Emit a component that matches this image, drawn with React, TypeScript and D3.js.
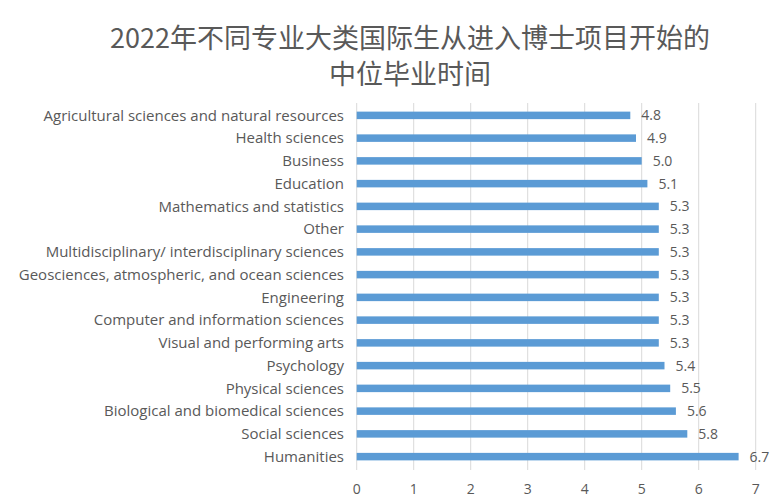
import { useEffect, useRef } from 'react';
import * as d3 from 'd3';

const titleLines = ['2022年不同专业大类国际生从进入博士项目开始的', '中位毕业时间'];

const categories = [
  'Agricultural sciences and natural resources',
  'Health sciences',
  'Business',
  'Education',
  'Mathematics and statistics',
  'Other',
  'Multidisciplinary/ interdisciplinary sciences',
  'Geosciences, atmospheric, and ocean sciences',
  'Engineering',
  'Computer and information sciences',
  'Visual and performing arts',
  'Psychology',
  'Physical sciences',
  'Biological and biomedical sciences',
  'Social sciences',
  'Humanities',
];

const values = [4.8, 4.9, 5.0, 5.1, 5.3, 5.3, 5.3, 5.3, 5.3, 5.3, 5.3, 5.4, 5.5, 5.6, 5.8, 6.7];

const xTicks = [0, 1, 2, 3, 4, 5, 6, 7];

const TITLE_FONT = '"Noto Sans CJK SC", sans-serif';
const FONT = '"Open Sans", "Noto Sans", sans-serif';
const TEXT = '#595959';

const App = () => {
  const svgRef = useRef<SVGSVGElement>(null);

  useEffect(() => {
    if (!svgRef.current) return;
    const svg = d3.select(svgRef.current);
    svg.selectAll('*').remove();

    const width = 774;
    const height = 500;
    const left = 356.7;
    const right = 755.7;
    const top = 103;
    const bottom = 470;

    svg.attr('width', width).attr('height', height);

    // title
    svg.selectAll('.title')
      .data(titleLines)
      .join('text')
      .attr('class', 'title')
      .attr('x', 410)
      .attr('y', (d, i) => 48 + i * 36)
      .attr('text-anchor', 'middle')
      .attr('font-family', TITLE_FONT)
      .attr('font-size', 27)
      .attr('fill', TEXT)
      .text(d => d);

    const x = d3.scaleLinear().domain([0, 7]).range([left, right]);
    const y = d3.scaleBand<string>()
      .domain(categories)
      .range([top + 1, bottom - 2])
      .paddingInner(0.67)
      .paddingOuter(0.335);

    // gridlines
    svg.append('g')
      .selectAll('line')
      .data(xTicks)
      .join('line')
      .attr('x1', d => x(d))
      .attr('x2', d => x(d))
      .attr('y1', top)
      .attr('y2', bottom)
      .attr('stroke', '#d9d9d9')
      .attr('stroke-width', 1);

    // bars
    svg.append('g')
      .selectAll('rect')
      .data(values)
      .join('rect')
      .attr('x', x(0))
      .attr('y', (d, i) => y(categories[i])!)
      .attr('width', d => x(d) - x(0))
      .attr('height', y.bandwidth())
      .attr('fill', '#5b9bd5');

    // value labels
    svg.append('g')
      .selectAll('text')
      .data(values)
      .join('text')
      .attr('x', d => x(d) + 11)
      .attr('y', (d, i) => y(categories[i])! + y.bandwidth() / 2)
      .attr('dy', '0.35em')
      .attr('font-family', FONT)
      .attr('font-size', 14)
      .attr('fill', TEXT)
      .text(d => d.toFixed(1));

    // category labels
    svg.append('g')
      .selectAll('text')
      .data(categories)
      .join('text')
      .attr('x', 344)
      .attr('y', d => y(d)! + y.bandwidth() / 2)
      .attr('dy', '0.35em')
      .attr('text-anchor', 'end')
      .attr('font-family', FONT)
      .attr('font-size', 15)
      .attr('fill', TEXT)
      .text(d => d);

    // x tick labels
    svg.append('g')
      .selectAll('text')
      .data(xTicks)
      .join('text')
      .attr('x', d => x(d))
      .attr('y', 489)
      .attr('dy', '0.35em')
      .attr('text-anchor', 'middle')
      .attr('font-family', FONT)
      .attr('font-size', 14)
      .attr('fill', TEXT)
      .text(d => d);
  }, []);

  return (
    <svg ref={svgRef} style={{ position: 'absolute', left: 0, top: 0, background: '#fff' }}></svg>
  );
};

export default App;
